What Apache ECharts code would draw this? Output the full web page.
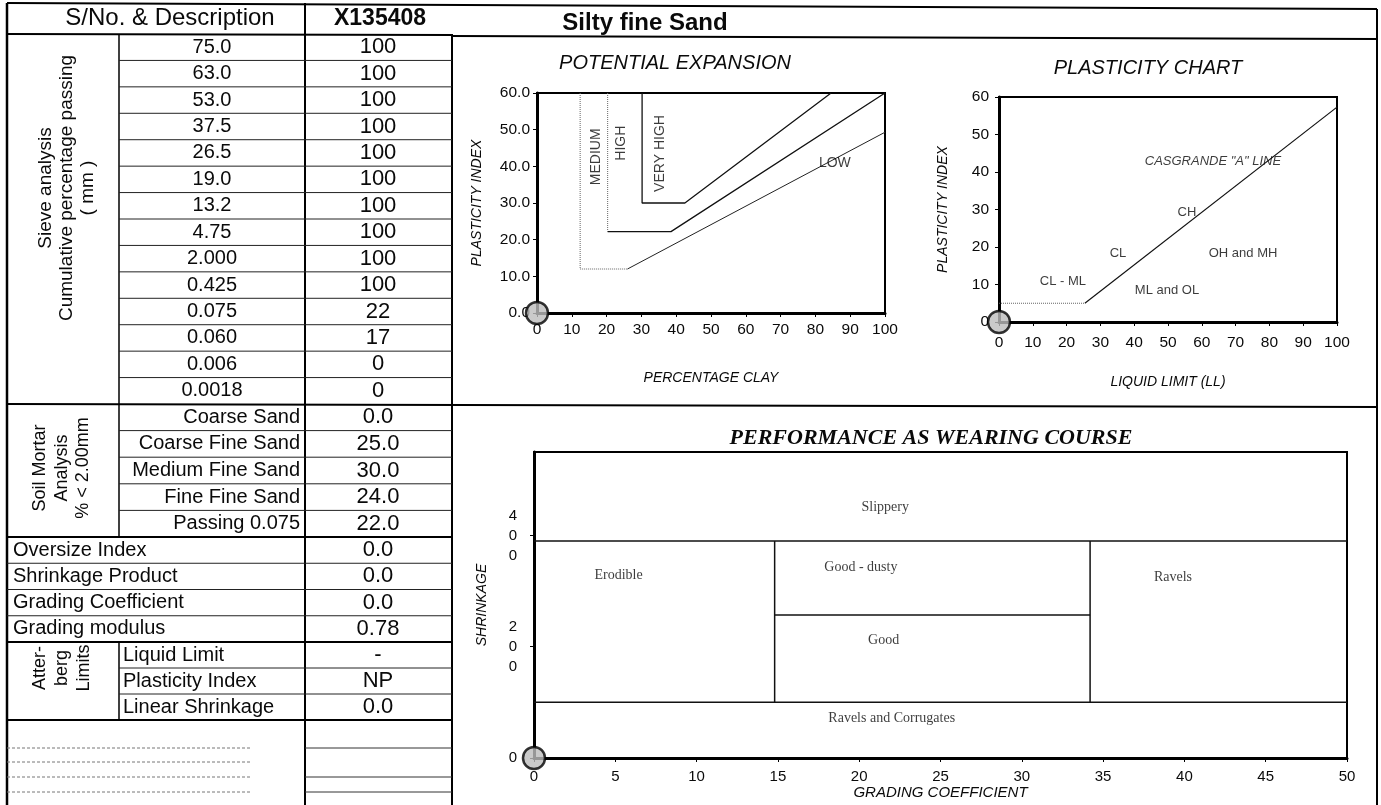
<!DOCTYPE html>
<html>
<head>
<meta charset="utf-8">
<script src="https://cdn.jsdelivr.net/npm/echarts@6/dist/echarts.min.js"></script>
<style>
  html, body { margin: 0; padding: 0; background: #fff; }
  #report { width: 1381px; height: 805px; }
</style>
</head>
<body>
<div id="report"></div>
<script>
// ---------- sample record ----------
const sampleNo = 'X135408';
const sampleDescription = 'Silty fine Sand';

const sieveSizes = ['75.0', '63.0', '53.0', '37.5', '26.5', '19.0', '13.2', '4.75', '2.000', '0.425', '0.075', '0.060', '0.006', '0.0018'];
const sievePassing = [100, 100, 100, 100, 100, 100, 100, 100, 100, 100, 22, 17, 0, 0];

const mortarFractions = ['Coarse Sand', 'Coarse Fine Sand', 'Medium Fine Sand', 'Fine Fine Sand', 'Passing 0.075'];
const mortarPercent = [0.0, 25.0, 30.0, 24.0, 22.0];

const indexNames = ['Oversize Index', 'Shrinkage Product', 'Grading Coefficient', 'Grading modulus'];
const indexValues = ['0.0', '0.0', '0.0', '0.78'];

const atterbergNames = ['Liquid Limit', 'Plasticity Index', 'Linear Shrinkage'];
const atterbergValues = ['-', 'NP', '0.0'];

// sample plotted on every chart (non-plastic: PI 0, GC 0, SP 0)
const samplePoint = [0, 0];

// ---------- potential expansion (percentage clay vs plasticity index) ----------
const clayTicks = [0, 10, 20, 30, 40, 50, 60, 70, 80, 90, 100];
const expansionPiTicks = [0, 10, 20, 30, 40, 50, 60];
const lowMediumBoundary = [[12.4, 60], [12.4, 12], [26, 12], [100, 49.3]];
const mediumHighBoundary = [[20.3, 60], [20.3, 22.2], [38.5, 22.2], [100, 60]];
const highVeryHighBoundary = [[30.2, 60], [30.2, 30], [42.5, 30], [84.5, 60]];
const expansionZones = ['MEDIUM', 'HIGH', 'VERY HIGH', 'LOW'];
const expansionZoneAt = [[17.0, 42.6], [24.3, 46.3], [35.3, 43.5], [85.6, 40.8]];

// ---------- plasticity chart (liquid limit vs plasticity index) ----------
const llTicks = [0, 10, 20, 30, 40, 50, 60, 70, 80, 90, 100];
const plasticityPiTicks = [0, 10, 20, 30, 40, 50, 60];
const clMlFloor = [[0, 5], [25.4, 5]];
const casagrandeALine = [[25.4, 5], [100, 57.3]];
const soilGroups = ['CASGRANDE "A" LINE', 'CH', 'CL', 'OH and MH', 'CL - ML', 'ML and OL'];
const soilGroupAt = [[63.3, 42.7], [55.6, 29.3], [35.2, 18.4], [72.2, 18.4], [18.9, 10.9], [49.7, 8.5]];

// ---------- performance as wearing course (grading coefficient vs shrinkage) ----------
const gcTicks = [0, 5, 10, 15, 20, 25, 30, 35, 40, 45, 50];
const shrinkageTicks = [0, 200, 400];
const shrinkageMax = 550;
const slipperyLimit = [[0, 390], [50, 390]];
const corrugationLimit = [[0, 100], [50, 100]];
const erodibleLimit = [[14.8, 100], [14.8, 390]];
const ravellingLimit = [[34.2, 100], [34.2, 390]];
const dustyLimit = [[14.8, 257], [34.2, 257]];
const performanceZones = ['Slippery', 'Erodible', 'Good - dusty', 'Good', 'Ravels and Corrugates', 'Ravels'];
const performanceZoneAt = [[21.6, 451], [5.2, 329], [20.1, 343], [21.5, 212], [22.0, 72], [39.3, 324]];

// ---------- styling ----------
const SANS = "'Liberation Sans', Arial, sans-serif";
const SERIF = "'Liberation Serif', 'Times New Roman', serif";
const INK = '#0a0a0a';

// ---------- report table layout ----------
const X_LEFT = 7, X_COL1 = 119, X_COL2 = 305, X_COL3 = 452, X_RIGHT = 1377;
const Y_HEAD = 34, Y_SIEVE = 404, Y_MORTAR = 537, Y_INDEX = 642, Y_ATT = 720, Y_END = 805;

const g = [];
function hline(x1, y1, x2, y2, w, extra) {
  g.push({ type: 'line', silent: true, shape: { x1, y1, x2, y2 },
    style: Object.assign({ stroke: '#000', lineWidth: w }, extra || {}) });
}
function text(str, x, y, opts) {
  opts = opts || {};
  const align = opts.align || 'center';
  g.push({
    type: 'text', silent: true, x, y, rotation: opts.rotation || 0,
    style: {
      text: str,
      font: (opts.style || 'normal') + ' ' + (opts.weight || 'normal') + ' ' + (opts.size || 20) + 'px ' + (opts.family || SANS),
      fontStyle: opts.style || 'normal', fontWeight: opts.weight || 'normal',
      fontSize: opts.size || 20, fontFamily: opts.family || SANS,
      fill: INK, align, textAlign: align, verticalAlign: 'middle', textVerticalAlign: 'middle',
      lineHeight: opts.lineHeight || undefined
    }
  });
}
function rowCenters(top, bottom, n) {
  const h = (bottom - top) / n;
  const out = [];
  for (let i = 0; i < n; i++) out.push(top + h * (i + 0.5));
  return out;
}
function rowLines(top, bottom, n, x1, x2) {
  const h = (bottom - top) / n;
  for (let i = 1; i < n; i++) hline(x1, top + h * i, x2, top + h * i, 1, { stroke: '#222' });
}

// frame and section rules
hline(X_LEFT, 3, X_RIGHT, 9, 2);
hline(X_LEFT, Y_HEAD, X_COL3, Y_HEAD + 1, 2);
hline(X_COL3, Y_HEAD + 2, X_RIGHT, Y_HEAD + 5, 2);
hline(X_LEFT, Y_SIEVE, X_RIGHT, Y_SIEVE + 3, 2);
hline(X_LEFT, Y_MORTAR, X_COL3, Y_MORTAR, 2);
hline(X_LEFT, Y_INDEX, X_COL3, Y_INDEX, 2);
hline(X_LEFT, Y_ATT, X_COL3, Y_ATT, 2);
hline(X_LEFT, 3, X_LEFT, Y_END, 2.5);
hline(X_COL2, 3, X_COL2, Y_END, 2);
hline(X_COL3, Y_HEAD, X_COL3, Y_END, 2);
hline(X_RIGHT, 9, X_RIGHT, Y_END, 2);
hline(X_COL1, Y_HEAD, X_COL1, Y_MORTAR, 1.5);
hline(X_COL1, Y_INDEX, X_COL1, Y_ATT, 1.5);

rowLines(Y_HEAD, Y_SIEVE, sieveSizes.length, X_COL1, X_COL3);
rowLines(Y_SIEVE, Y_MORTAR, mortarFractions.length, X_COL1, X_COL3);
rowLines(Y_MORTAR, Y_INDEX, indexNames.length, X_LEFT, X_COL3);
rowLines(Y_INDEX, Y_ATT, atterbergNames.length, X_COL1, X_COL3);

// spare ruled lines at the foot of the table
[748, 762, 777, 792].forEach(function (y) {
  hline(X_LEFT, y, 250, y, 1, { stroke: '#777', lineDash: [3, 2] });
});
[748, 777, 792].forEach(function (y) { hline(X_COL2, y, X_COL3, y, 1, { stroke: '#333' }); });

// header
text('S/No. & Description', 170, 18, { size: 24 });
text(sampleNo, 380, 19, { size: 23, weight: 'bold' });
text(sampleDescription, 645, 23, { size: 24, weight: 'bold' });

// sieve analysis
const sieveY = rowCenters(Y_HEAD, Y_SIEVE, sieveSizes.length);
sieveSizes.forEach(function (s, i) {
  text(s, 212, sieveY[i], { size: 20 });
  text(String(sievePassing[i]), 378, sieveY[i], { size: 22 });
});
text('Sieve analysis\nCumulative percentage passing\n( mm )', 67, 188, { size: 19, rotation: Math.PI / 2, lineHeight: 21 });

// soil mortar
const mortarY = rowCenters(Y_SIEVE, Y_MORTAR, mortarFractions.length);
mortarFractions.forEach(function (s, i) {
  text(s, 300, mortarY[i], { size: 20, align: 'right' });
  text(mortarPercent[i].toFixed(1), 378, mortarY[i], { size: 22 });
});
text('Soil Mortar\nAnalysis\n% < 2.00mm', 62, 468, { size: 18, rotation: Math.PI / 2, lineHeight: 21.5 });

// indices
const indexY = rowCenters(Y_MORTAR, Y_INDEX, indexNames.length);
indexNames.forEach(function (s, i) {
  text(s, 13, indexY[i], { size: 20, align: 'left' });
  text(indexValues[i], 378, indexY[i], { size: 22 });
});

// atterberg limits
const attY = rowCenters(Y_INDEX, Y_ATT, atterbergNames.length);
atterbergNames.forEach(function (s, i) {
  text(s, 123, attY[i], { size: 20, align: 'left' });
  text(atterbergValues[i], 378, attY[i], { size: 22 });
});
text('Atter-\nberg\nLimits', 62, 668, { size: 18, rotation: Math.PI / 2, lineHeight: 22 });

// chart titles
text('POTENTIAL EXPANSION', 675, 63, { size: 20, style: 'italic' });
text('PLASTICITY CHART', 1148, 68, { size: 20, style: 'italic' });
text('PERFORMANCE AS WEARING COURSE', 931, 438, { size: 22, style: 'italic', weight: 'bold', family: SERIF });

// ---------- chart option ----------
function valueAxis(o) {
  return {
    type: 'value', gridIndex: o.grid,
    min: o.ticks[0], max: o.max !== undefined ? o.max : o.ticks[o.ticks.length - 1],
    interval: o.ticks[1] - o.ticks[0],
    name: o.name, nameLocation: 'middle', nameGap: o.nameGap,
    nameTextStyle: { fontFamily: SANS, fontStyle: 'italic', fontSize: o.nameSize || 14, color: INK },
    axisLine: { show: true, onZero: false, lineStyle: { color: '#000', width: 3 } },
    axisTick: Object.assign({ show: true, inside: false, length: 4, lineStyle: { color: '#000', width: 1 } },
      o.customTicks ? { customValues: o.ticks } : {}),
    axisLabel: Object.assign({ color: INK, fontFamily: SANS, fontSize: o.labelSize || 15.5, margin: o.margin,
      formatter: o.formatter, lineHeight: o.lineHeight },
      o.customTicks ? { customValues: o.ticks } : {}),
    splitLine: { show: false }
  };
}
function boundary(data, xi, color, width, dash) {
  return {
    type: 'line', xAxisIndex: xi, yAxisIndex: xi, data: data, showSymbol: false, symbol: 'none',
    lineStyle: { color: color, width: width, type: dash || 'solid' }, silent: true, clip: false, z: 3
  };
}
function zoneLabels(names, at, xi, font, size, rotate) {
  return {
    type: 'scatter', xAxisIndex: xi, yAxisIndex: xi, symbolSize: 1, silent: true, clip: false, z: 4,
    itemStyle: { color: 'rgba(0,0,0,0)' },
    data: names.map(function (n, i) {
      return { name: n, value: at[i], label: { rotate: rotate ? rotate[i] : 0 } };
    }),
    label: { show: true, position: 'inside', formatter: '{b}', color: INK,
      fontFamily: font, fontSize: size }
  };
}
function sampleMarker(xi) {
  return {
    type: 'scatter', xAxisIndex: xi, yAxisIndex: xi, data: [samplePoint], symbolSize: 22,
    clip: false, z: 10, silent: true,
    itemStyle: { color: '#bdbdbd', borderColor: '#000', borderWidth: 2.5 }
  };
}

const option = {
  animation: false,
  backgroundColor: '#fff',
  graphic: { elements: g },
  grid: [
    { left: 537, top: 93, width: 348, height: 220, show: true, borderColor: '#000', borderWidth: 2, containLabel: false },
    { left: 999, top: 97, width: 338, height: 225, show: true, borderColor: '#000', borderWidth: 2, containLabel: false },
    { left: 534, top: 452, width: 813, height: 306, show: true, borderColor: '#000', borderWidth: 2, containLabel: false }
  ],
  xAxis: [
    valueAxis({ grid: 0, ticks: clayTicks, name: 'PERCENTAGE CLAY', nameGap: 58, margin: 9 }),
    valueAxis({ grid: 1, ticks: llTicks, name: 'LIQUID LIMIT (LL)', nameGap: 53, margin: 13 }),
    valueAxis({ grid: 2, ticks: gcTicks, name: 'GRADING COEFFICIENT', nameGap: 23, margin: 11, nameSize: 15, labelSize: 15 })
  ],
  yAxis: [
    valueAxis({ grid: 0, ticks: expansionPiTicks, name: 'PLASTICITY INDEX', nameGap: 53, margin: 7,
      formatter: function (v) { return v.toFixed(1); } }),
    valueAxis({ grid: 1, ticks: plasticityPiTicks, name: 'PLASTICITY INDEX', nameGap: 49, margin: 10 }),
    valueAxis({ grid: 2, ticks: shrinkageTicks, max: shrinkageMax, customTicks: true, name: 'SHRINKAGE',
      nameGap: 45, margin: 17, lineHeight: 20, labelSize: 15,
      formatter: function (v) { return String(v).split('').join('\n'); } })
  ],
  series: [
    // faint construction segments, then the solid diagonals
    boundary(lowMediumBoundary.slice(0, 3), 0, '#666', 1, 'dotted'),
    boundary(lowMediumBoundary.slice(2), 0, '#222', 1),
    boundary(mediumHighBoundary.slice(0, 2), 0, '#666', 1, 'dotted'),
    boundary(mediumHighBoundary.slice(1), 0, '#111', 1.3),
    boundary(highVeryHighBoundary, 0, '#111', 1.3),
    zoneLabels(expansionZones, expansionZoneAt, 0, SANS, 14, [90, 90, 90, 0]),
    sampleMarker(0),

    boundary(clMlFloor, 1, '#666', 1, 'dotted'),
    boundary(casagrandeALine, 1, '#111', 1.2),
    zoneLabels(soilGroups, soilGroupAt, 1, SANS, 13, null),
    sampleMarker(1),

    boundary(slipperyLimit, 2, '#111', 1.5),
    boundary(corrugationLimit, 2, '#111', 1.5),
    boundary(erodibleLimit, 2, '#111', 1.5),
    boundary(ravellingLimit, 2, '#111', 1.5),
    boundary(dustyLimit, 2, '#111', 1.5),
    zoneLabels(performanceZones, performanceZoneAt, 2, SERIF, 14, null),
    sampleMarker(2)
  ]
};
// the "A" line caption is italic
option.series[9].data[0].label.fontStyle = 'italic';

const chart = echarts.init(document.getElementById('report'), null, { renderer: 'canvas' });
chart.setOption(option);
</script>
</body>
</html>
